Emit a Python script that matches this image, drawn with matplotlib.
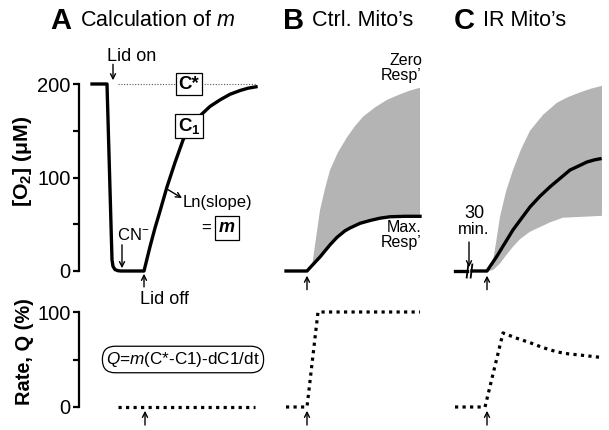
import numpy as np
import matplotlib
matplotlib.use("Agg")
import matplotlib.pyplot as plt

plt.rcParams['font.family'] = ['Liberation Sans', 'DejaVu Sans']
plt.rcParams['mathtext.fontset'] = 'custom'
plt.rcParams['mathtext.rm'] = 'Liberation Sans'
plt.rcParams['mathtext.it'] = 'Liberation Sans:italic'
plt.rcParams['mathtext.bf'] = 'Liberation Sans:bold'

# ---------------- data (time in arbitrary units, relative to each panel start) -------------
# Panel A: O2 trace
tA = [0, 15, 20, 21, 23, 26, 29, 52, 55, 58, 63, 68, 75, 83, 91, 98, 104, 109,
      118, 128, 138, 148, 156, 164]
o2A = [200, 200, 12, 5, 1.5, 0.3, 0, 0, 13, 26, 46, 64, 90, 116, 140, 155, 163, 167,
       176, 183, 189, 193, 195.5, 197]
cstarA = [200, 200]
cstar_t = [26, 164]
# Panel A rate (%)
qA_t = [26, 163]
qA = [0, 0]
lid_off_A = 52

# Panel B
tB = [0, 21, 27, 34, 44, 51, 59, 64, 74, 84, 94, 104, 119, 134]
o2B = [0, 0, 7, 15, 28, 36, 43, 46, 51, 54, 56.5, 58, 58.5, 58.5]
tB_up = [21, 26, 30, 34, 39, 44, 52, 61, 69, 77, 89, 101, 114, 124, 134]
o2B_up = [0, 5, 35, 65, 88, 108, 127, 143, 155, 165, 175, 183, 189, 193, 196]
qB_t = [0, 21, 32, 134]
qB = [0, 0, 100, 100]
lid_B = 21

# Panel C
tC1 = [0, 12]
o2C1 = [0, 0]
tC = [17, 32, 42, 50, 58, 67, 75, 85, 95, 105, 115, 125, 132, 140, 145]
o2C = [0, 0, 16, 30, 44, 57, 68.5, 80, 90, 99, 108, 113, 116.6, 119, 120]
tC_up = [32, 37, 41, 45, 51, 58, 66, 75, 88, 102, 113, 125, 136, 147]
o2C_up = [0, 4, 30, 58, 85, 108, 130, 150, 167, 180, 186, 191, 195, 198]
tC_lo = [32, 38, 45, 52, 58, 65, 75, 85, 95, 108, 128, 147]
o2C_lo = [0, 1, 8, 18, 26, 34, 42, 47, 52, 57, 58, 59]
qC_t = [0, 30, 48, 60, 75, 88, 102, 113, 125, 145]
qC = [0, 0, 78, 73, 67.7, 62.5, 58, 56, 54.7, 52.3]
lid_C = 32
break_C = [12.5, 16.5]

o2_ticks = [0, 100, 200]
q_ticks = [0, 100]

# ---------------- layout -------------
W, H = 609, 430
fig = plt.figure(figsize=(W / 100, H / 100), dpi=100)

def rect(l, t, r, b):
    return [l / W, 1 - b / H, (r - l) / W, (b - t) / H]

axT = fig.add_axes(rect(79, 84, 609, 271))
axB = fig.add_axes(rect(79, 312, 609, 407))

offA, offB, offC = 13, 207, 376
for ax, ylim in ((axT, (0, 200)), (axB, (0, 100))):
    ax.set_xlim(0, 530)
    ax.set_ylim(*ylim)
    for s in ('top', 'right', 'bottom'):
        ax.spines[s].set_visible(False)
    ax.spines['left'].set_linewidth(1.6)
    ax.set_xticks([])
    ax.tick_params(axis='y', which='major', length=4, width=1.6, labelsize=14.5, pad=2)
    ax.tick_params(axis='y', which='minor', length=4, width=1.6)
    ax.patch.set_visible(False)

axT.set_yticks(o2_ticks)
axT.set_yticks([50, 150], minor=True)
axB.set_yticks(q_ticks)
axB.set_yticks([50], minor=True)

GRAY = '#b4b4b4'
LW = 2.4
sh = lambda t, o: np.asarray(t, float) + o

# ---- Panel A top
axT.plot(sh(cstar_t, offA), cstarA, color='#555555', lw=0.8, ls=(0, (1, 1.5)), clip_on=False)
axT.plot(sh(tA, offA), o2A, color='black', lw=LW, clip_on=False, solid_joinstyle='round')

box = dict(boxstyle='square,pad=0.12', fc='white', ec='black', lw=0.9)
axT.text(offA + 97, 200, 'C*', ha='center', va='center', fontsize=13.5, weight='bold', bbox=box, zorder=5)
axT.text(offA + 97, 155, r'C$_\mathbf{1}$', ha='center', va='center', fontsize=13.5, weight='bold', bbox=box, zorder=5)

def arrow(ax, x, y0, y1, lw=1.0):
    ax.annotate('', xy=(x, y1), xytext=(x, y0),
                arrowprops=dict(arrowstyle='->', lw=lw, shrinkA=0, shrinkB=0, mutation_scale=9),
                annotation_clip=False)

axT.text(offA + 15, 229, 'Lid on', ha='left', va='center', fontsize=13)
arrow(axT, offA + 21, 221, 204)
axT.text(offA + 25, 38.5, r'CN$^{\mathrm{-}}$', ha='left', va='center', fontsize=12)
arrow(axT, offA + 30, 28, 3)
arrow(axT, offA + lid_off_A, -17, -3)
axT.text(offA + 48, -30, 'Lid off', ha='left', va='center', fontsize=13)

axT.text(offA + 91, 73, 'Ln(slope)', ha='left', va='center', fontsize=12)
axT.annotate('', xy=(offA + 90, 78), xytext=(offA + 76, 87),
             arrowprops=dict(arrowstyle='->', lw=1.0, shrinkA=0, shrinkB=0, mutation_scale=9))
axT.text(offA + 119, 46, '=', ha='right', va='center', fontsize=12)
axT.text(offA + 135, 46, 'm', ha='center', va='center', fontsize=13, weight='bold', style='italic',
         bbox=dict(boxstyle='square,pad=0.2', fc='white', ec='black', lw=0.9))

# ---- Panel B top
polyx = np.concatenate([sh(tB_up, offB), sh(tB, offB)[::-1]])
polyy = np.concatenate([o2B_up, o2B[::-1]])
axT.fill(polyx, polyy, color=GRAY, lw=0, clip_on=False)
axT.plot(sh(tB, offB), o2B, color='black', lw=LW, clip_on=False)
arrow(axT, offB + lid_B, -20, -5)
axT.text(offB + 136, 217, 'Zero\nResp\u2019', ha='right', va='center', fontsize=11.5, linespacing=1.0)
axT.text(offB + 136, 38, 'Max.\nResp\u2019', ha='right', va='center', fontsize=11.5, linespacing=1.0)

# ---- Panel C top
polyx = np.concatenate([sh(tC_up, offC), sh(tC_lo, offC)[::-1]])
polyy = np.concatenate([o2C_up, o2C_lo[::-1]])
axT.fill(polyx, polyy, color=GRAY, lw=0, clip_on=False)
axT.plot(sh(tC1, offC), o2C1, color='black', lw=LW, clip_on=False)
axT.plot(sh(tC, offC), o2C, color='black', lw=LW, clip_on=False)
for b in break_C:
    axT.plot([offC + b - 0.8, offC + b + 0.8], [-7, 7], color='black', lw=1.3, clip_on=False)
axT.text(offC + 19, 61, '30', ha='center', va='center', fontsize=13)
axT.text(offC + 19, 44, 'min.', ha='center', va='center', fontsize=12)
arrow(axT, offC + 14, 31, 4)
arrow(axT, offC + lid_C, -20, -5)

# ---- bottom row
DOT = (0, (1, 1.35))
kw = dict(color='black', lw=2.3, ls=DOT, dash_capstyle='butt', clip_on=False)
axB.plot(sh(qA_t, offA), qA, **kw)
axB.plot(sh(qB_t, offB), qB, **kw)
axB.plot(sh(qC_t, offC), qC, **kw)
arrow(axB, offA + 53, -19, -4)
arrow(axB, offB + lid_B, -19, -4)
arrow(axB, offC + lid_C, -19, -4)
axB.text(offA + 91, 50, r'$Q$=$m$(C*-C1)-dC1/dt', ha='center', va='center', fontsize=12.3,
         bbox=dict(boxstyle='round,pad=0.22,rounding_size=0.75', fc='white', ec='black', lw=0.9))

# ---- axis labels
axT.set_ylabel(r'[O$_\mathbf{2}$] ($\mathbf{\mu}$M)', fontsize=15.3, weight='bold')
axT.yaxis.set_label_coords(-45 / 530, (271 - 161) / 187)
axB.set_ylabel('Rate, Q (%)', fontsize=14.4, weight='bold')
axB.yaxis.set_label_coords(-45 / 530, (407 - 352) / 95)

# ---- titles
ty = 1 - 21 / H
fig.text(50 / W, ty, 'A', fontsize=21, weight='bold', va='center')
fig.text(80 / W, ty, r'Calculation of $m$', fontsize=15.5, va='center')
fig.text(283 / W, ty, 'B', fontsize=21, weight='bold', va='center')
fig.text(312 / W, ty, 'Ctrl. Mito\u2019s', fontsize=15.5, va='center')
fig.text(454 / W, ty, 'C', fontsize=21, weight='bold', va='center')
fig.text(483 / W, ty, 'IR Mito\u2019s', fontsize=15.5, va='center')

fig.savefig('out.png', dpi=100)
